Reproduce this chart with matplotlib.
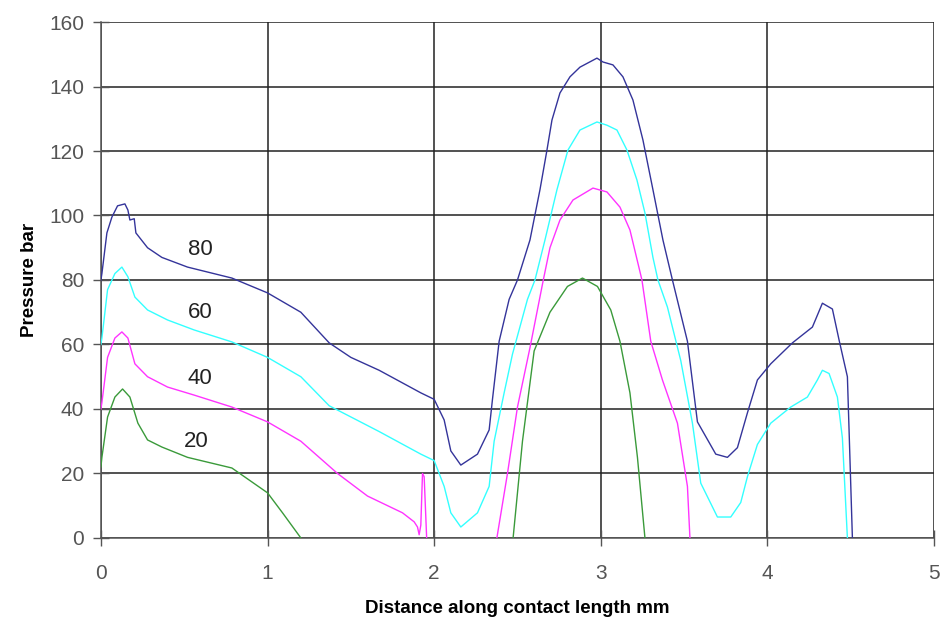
import numpy as np
import matplotlib
matplotlib.use("Agg")
import matplotlib.pyplot as plt

nan = np.nan

# pressure profiles for the four loads (labels 80/60/40/20)
x80 = [0, 0.006, 0.036, 0.066, 0.1, 0.144, 0.162, 0.174, 0.2, 0.21, 0.28, 0.366, 0.52, 0.786,
       1.0, 1.2, 1.37, 1.5, 1.67, 1.92, 2.0, 2.06, 2.1, 2.16, 2.26, 2.33, 2.35, 2.39, 2.45,
       2.5, 2.575, 2.635, 2.677, 2.707, 2.755, 2.815, 2.875, 2.977, 3.013, 3.073, 3.133,
       3.193, 3.253, 3.313, 3.373, 3.43, 3.52, 3.58, 3.69, 3.76, 3.82, 3.88, 3.94, 4.02,
       4.15, 4.27, 4.33, 4.39, 4.43, 4.48, 4.49, 4.51]
y80 = [80, 82, 94.6, 99.5, 103, 103.6, 101.7, 98.6, 99, 94.6, 90, 87, 84, 80.6,
       76, 70, 60.5, 56, 52, 45, 43, 36.6, 27, 22.6, 26, 33.5, 43, 61, 74,
       80, 92.4, 108, 120.3, 129.6, 138, 143, 146, 148.8, 147.6, 146.7, 143,
       135.8, 123.4, 108, 92.4, 80, 61, 36, 26, 25, 28, 38.8, 49, 54,
       60.5, 65.4, 72.8, 71, 61.4, 50, 33.5, 0]

x60 = [0, 0.006, 0.04, 0.084, 0.126, 0.162, 0.204, 0.28, 0.4, 0.56, 0.786, 1.0, 1.2, 1.37,
       1.67, 1.92, 2.0, 2.06, 2.1, 2.16, 2.26, 2.33, 2.36, 2.42, 2.47, 2.56, 2.605, 2.665,
       2.737, 2.803, 2.875, 2.977, 3.037, 3.097, 3.157, 3.217, 3.265, 3.313, 3.343, 3.40,
       3.48, 3.55, 3.6, 3.7, 3.78, 3.84, 3.88, 3.94, 4.02, 4.14, 4.24, 4.3, 4.33, 4.37,
       4.42, 4.45, 4.48]
y60 = [60, 62, 77, 82, 84, 81, 74.7, 70.7, 67.6, 64.5, 60.8, 56, 50, 41,
       33, 26, 24, 16, 7.8, 3.4, 7.8, 16, 30, 45, 57, 74, 80, 92.4,
       108, 120.3, 126.5, 129, 128, 126.5, 120.3, 111, 100.8, 87, 80, 71.6,
       55, 35.6, 17, 6.5, 6.5, 11, 19, 29, 35.6, 40.6, 43.7, 49, 52, 51,
       43.7, 31, 0]

x40 = [0, 0.006, 0.04, 0.084, 0.126, 0.162, 0.204, 0.28, 0.4, 0.56, 0.786, 1.0, 1.2, 1.42,
       1.6, 1.81, 1.88, 1.9, 1.91, 1.92, 1.93, 1.94, 1.955, nan,
       2.37, 2.44, 2.5, 2.575, 2.655, 2.695, 2.755, 2.833, 2.953, 3.037, 3.115, 3.175,
       3.247, 3.3, 3.37, 3.46, 3.52, 3.535]
y40 = [40, 42, 56, 62, 63.9, 62, 54, 50, 46.8, 44.3, 40.6, 36, 30, 20,
       13, 7.8, 5, 3.4, 1, 4, 20, 19, 0, nan,
       -2, 20, 40.6, 59, 80, 90, 98.6, 104.8, 108.5, 107.3, 102.6, 95.5,
       80, 61, 49, 35.6, 16, 0]

x20 = [0, 0.006, 0.04, 0.084, 0.13, 0.174, 0.222, 0.28, 0.366, 0.52, 0.786, 0.875, 1.0,
       1.09, 1.2, nan,
       2.47, 2.53, 2.6, 2.695, 2.8, 2.89, 2.98, 3.06, 3.115, 3.175, 3.22, 3.265]
y20 = [22, 25, 37.5, 43.7, 46.2, 43.7, 35.6, 30.4, 28.2, 25, 21.7, 18.5, 14,
       7.8, 0, nan,
       -2, 30, 58, 70, 78, 80.6, 78, 70.7, 61, 45, 25, 0]

labels = ["80", "60", "40", "20"]
label_x = [0.52, 0.52, 0.52, 0.50]
label_y = [89.6, 69.8, 49.6, 29.8]
colors = ["#34349a", "#33ffff", "#ff33ff", "#3a9a3a"]

plt.rcParams["font.family"] = ["Liberation Sans", "DejaVu Sans"]

fig = plt.figure(figsize=(9.43, 6.2), dpi=100)
ax = fig.add_axes([0.107, 0.1323, 0.8835, 0.8322])

for xs, ys, c in zip([x80, x60, x40, x20], [y80, y60, y40, y20], colors):
    ax.plot(xs, ys, color=c, linewidth=1.0, zorder=3)

for t, lx, ly in zip(labels, label_x, label_y):
    ax.text(lx, ly, t, fontsize=16, color="#222222", va="center", zorder=4)

ax.set_xlim(0, 5)
ax.set_ylim(0, 160)
ax.set_xticks(range(0, 6))
ax.set_yticks(range(0, 161, 20))
ax.grid(True, color="#222222", linewidth=1.1, zorder=1)
ax.set_axisbelow(True)
for side in ["top", "right"]:
    ax.spines[side].set_visible(False)
for side in ["left", "bottom"]:
    ax.spines[side].set_color("#555555")
    ax.spines[side].set_linewidth(1.1)
ax.tick_params(direction="inout", length=12, width=1, color="#555555",
               labelsize=15, labelcolor="#555555")
ax.tick_params(axis="x", pad=13)
ax.tick_params(axis="y", pad=6)

ax.set_xlabel("Distance along contact length mm", fontsize=13.5, fontweight="bold", labelpad=12)
ax.set_ylabel("Pressure bar", fontsize=13.5, fontweight="bold", labelpad=8)

fig.savefig("out.png", dpi=100)
